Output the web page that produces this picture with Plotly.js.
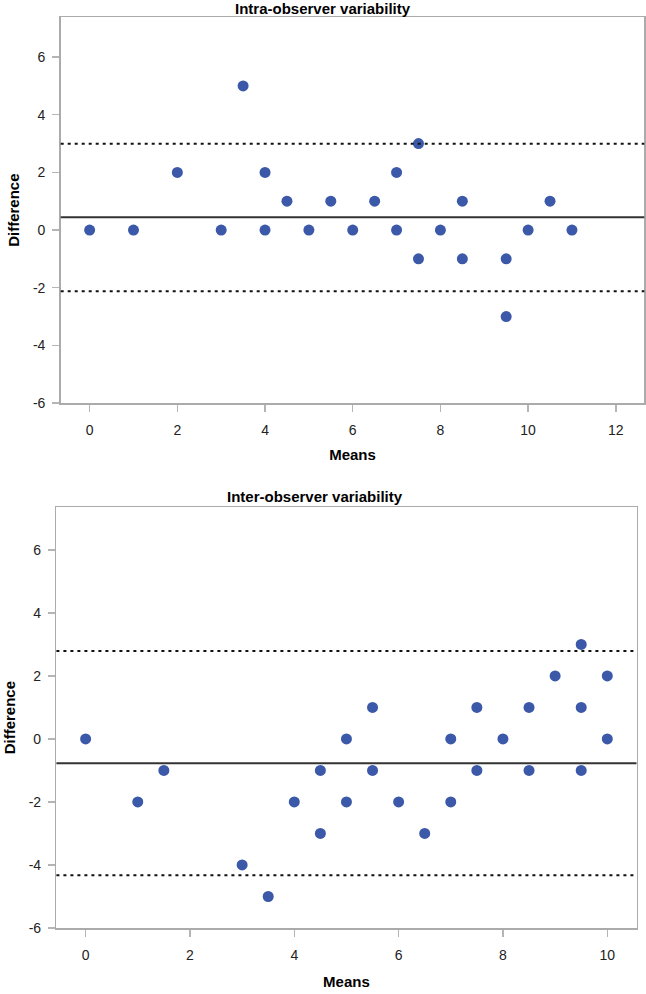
<!DOCTYPE html>
<html>
<head>
<meta charset="utf-8">
<script src="https://cdn.plot.ly/plotly-3.0.1.min.js"></script>
<style>html,body{margin:0;padding:0;background:#fff;}#chart{width:646px;height:994px;}</style>
</head>
<body>
<div id="chart"></div>
<script>
// Intra-observer variability (top panel)
const intraMeans = [0, 1, 2, 3, 3.5, 4, 4, 4.5, 5, 5.5, 6, 6.5, 7, 7, 7.5, 7.5, 8, 8.5, 8.5, 9.5, 9.5, 10, 10.5, 11];
const intraDiffs = [0, 0, 2, 0, 5, 2, 0, 1, 0, 1, 0, 1, 2, 0, 3, -1, 0, 1, -1, -1, -3, 0, 1, 0];
const intraMeanDiff = 0.44;
const intraUpper = 2.99;
const intraLower = -2.12;

// Inter-observer variability (bottom panel)
const interMeans = [0, 1, 1.5, 3, 3.5, 4, 4.5, 4.5, 5, 5, 5.5, 5.5, 6, 6.5, 7, 7, 7.5, 7.5, 8, 8.5, 8.5, 9, 9.5, 9.5, 9.5, 10, 10];
const interDiffs = [0, -2, -1, -4, -5, -2, -1, -3, 0, -2, 1, -1, -2, -3, 0, -2, 1, -1, 0, 1, -1, 2, 3, 1, -1, 2, 0];
const interMeanDiff = -0.77;
const interUpper = 2.79;
const interLower = -4.33;

// Tick values and labels
const yTickVals = [-6, -4, -2, 0, 2, 4, 6];
const yTickText = ["-6", "-4", "-2", "0", "2", "4", "6"];
const intraXTickVals = [0, 2, 4, 6, 8, 10, 12];
const intraXTickText = ["0", "2", "4", "6", "8", "10", "12"];
const interXTickVals = [0, 2, 4, 6, 8, 10];
const interXTickText = ["0", "2", "4", "6", "8", "10"];

const titles = ["Intra-observer variability", "Inter-observer variability"];
const xTitle = "Means";
const yTitle = "Difference";

const W = 646, H = 994;
const markerColor = "#3B58A9";
const font = "Liberation Sans, Arial, Helvetica, sans-serif";

const marker = {color: markerColor, size: 11, line: {width: 0}};
const traces = [
  {x: intraMeans, y: intraDiffs, type: "scatter", mode: "markers", marker: marker, xaxis: "x", yaxis: "y", hoverinfo: "x+y", showlegend: false},
  {x: interMeans, y: interDiffs, type: "scatter", mode: "markers", marker: marker, xaxis: "x2", yaxis: "y2", hoverinfo: "x+y", showlegend: false}
];

function hline(axisSuffix, val, dotted) {
  return {
    type: "line", xref: "x" + axisSuffix + " domain", yref: "y" + axisSuffix,
    x0: 0, x1: 1, y0: val, y1: val,
    line: dotted ? {color: "#111", width: 2, dash: "3px,4px"} : {color: "#333", width: 2}
  };
}

const axisCommon = {
  showgrid: false, zeroline: false, showline: true, mirror: true,
  linecolor: "#ababab", linewidth: 1.5,
  ticks: "outside", ticklen: 7, tickwidth: 1.5, tickcolor: "#b5b5b5",
  tickfont: {family: font, size: 14, color: "#222"},
  tickmode: "array",
  automargin: false, fixedrange: true
};
const titleFont = {family: font, size: 15, color: "#000", weight: "bold"};

const layout = {
  width: W, height: H,
  margin: {l: 0, r: 0, t: 0, b: 0},
  paper_bgcolor: "#fff", plot_bgcolor: "#fff",
  font: {family: font},
  showlegend: false,
  xaxis: Object.assign({}, axisCommon, {
    domain: [60.7 / W, 644.3 / W], range: [-0.66, 12.65],
    tickvals: intraXTickVals, ticktext: intraXTickText,
    anchor: "y", ticklabelstandoff: 7,
    title: {text: "<b>" + xTitle + "</b>", font: titleFont, standoff: 12}
  }),
  yaxis: Object.assign({}, axisCommon, {
    domain: [1 - 403 / H, 1 - 17.3 / H], range: [-6, 7.38],
    tickvals: yTickVals, ticktext: yTickText,
    anchor: "x", ticklabelstandoff: 4,
    title: {text: "<b>" + yTitle + "</b>", font: titleFont, standoff: 9}
  }),
  xaxis2: Object.assign({}, axisCommon, {
    domain: [56.4 / W, 636.5 / W], range: [-0.56, 10.56],
    tickvals: interXTickVals, ticktext: interXTickText,
    anchor: "y2", ticklabelstandoff: 7,
    title: {text: "<b>" + xTitle + "</b>", font: titleFont, standoff: 14}
  }),
  yaxis2: Object.assign({}, axisCommon, {
    domain: [1 - 928 / H, 1 - 507.3 / H], range: [-6, 7.35],
    tickvals: yTickVals, ticktext: yTickText,
    anchor: "x2", ticklabelstandoff: 4,
    title: {text: "<b>" + yTitle + "</b>", font: titleFont, standoff: 9}
  }),
  shapes: [
    hline("", intraMeanDiff, false), hline("", intraUpper, true), hline("", intraLower, true),
    hline("2", interMeanDiff, false), hline("2", interUpper, true), hline("2", interLower, true)
  ],
  annotations: [
    {text: "<b>" + titles[0] + "</b>", xref: "paper", yref: "paper", x: 322.6 / W, y: 1 - 8.3 / H,
     xanchor: "center", yanchor: "middle", showarrow: false, font: titleFont},
    {text: "<b>" + titles[1] + "</b>", xref: "paper", yref: "paper", x: 315 / W, y: 1 - 496.7 / H,
     xanchor: "center", yanchor: "middle", showarrow: false, font: titleFont}
  ]
};

Plotly.newPlot("chart", traces, layout, {displayModeBar: false, staticPlot: true});
</script>
</body>
</html>
